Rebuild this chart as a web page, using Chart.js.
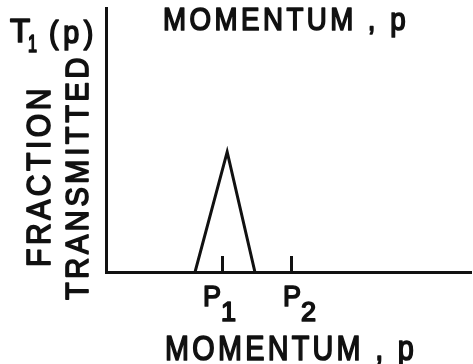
<!DOCTYPE html>
<html>
<head>
<meta charset="utf-8">
<script src="https://cdn.jsdelivr.net/npm/chart.js@4.4.1/dist/chart.umd.min.js"></script>
<style>
  html, body { margin: 0; padding: 0; background: #ffffff; }
  #wrap { width: 473px; height: 364px; position: relative; }
</style>
</head>
<body>
<div id="wrap"><canvas id="c"></canvas></div>
<script>
// ---- data ----
const curveX = [24.4, 33.2, 40.8];       // momentum
const curveY = [0, 0.455, 0];            // fraction transmitted
const tickValues = [31.8, 50.7];         // P1, P2 on the momentum axis
const tickMain = ['P', 'P'];
const tickSub = ['1', '2'];
const titleText = 'MOMENTUM , p';
const xTitleText = 'MOMENTUM , p';
const yTitleLines = ['FRACTION', 'TRANSMITTED'];
const yLabelMain = 'T';
const yLabelSub = '1';
const yLabelRest = '(p)';

// ---- styling constants ----
const INK = '#111111';
const FONT = '"Liberation Sans", Arial, sans-serif';
const labelOffsets = [[-19, -1], [-8, 10]]; // [P offset, subscript offset] from tick pixel

function drawTxt(ctx, s, x, y, size, maxW, spacing, rotate) {
  ctx.save();
  ctx.translate(x, y);
  if (rotate) ctx.rotate(-Math.PI / 2);
  ctx.font = size + 'px ' + FONT;
  ctx.letterSpacing = spacing + 'px';
  ctx.textAlign = 'left';
  ctx.textBaseline = 'alphabetic';
  ctx.fillStyle = INK;
  ctx.strokeStyle = INK;
  ctx.lineWidth = 1.7;
  ctx.lineJoin = 'round';
  if (maxW) { ctx.fillText(s, 0, 0, maxW); ctx.strokeText(s, 0, 0, maxW); }
  else { ctx.fillText(s, 0, 0); ctx.strokeText(s, 0, 0); }
  ctx.restore();
}

const textPlugin = {
  id: 'textPlugin',
  afterDraw(chart) {
    const ctx = chart.ctx;
    const xs = chart.scales.x;
    const ys = chart.scales.y;
    // inward tick marks
    ctx.save();
    ctx.strokeStyle = INK;
    ctx.lineWidth = 3;
    tickValues.forEach(v => {
      const px = Math.round(xs.getPixelForValue(v)) + 0.5;
      const py = ys.getPixelForValue(0);
      ctx.beginPath();
      ctx.moveTo(px, py);
      ctx.lineTo(px, py - 16);
      ctx.stroke();
    });
    ctx.restore();
    // tick labels with subscripts
    tickValues.forEach((v, i) => {
      const px = xs.getPixelForValue(v);
      drawTxt(ctx, tickMain[i], px + labelOffsets[i][0], 306, 30, 18, 0);
      drawTxt(ctx, tickSub[i], px + labelOffsets[i][1], 321, 27, 16, 0);
    });
    // top title
    drawTxt(ctx, titleText, 163, 30, 32, 246, 4);
    // bottom axis title
    drawTxt(ctx, xTitleText, 165, 360, 35, 252, 4);
    // y label T1(p)
    drawTxt(ctx, yLabelMain, 10, 42, 33, 21, 0);
    drawTxt(ctx, yLabelSub, 28, 52, 23, 9, 0);
    drawTxt(ctx, yLabelRest, 49, 43, 31, 49, 5);
    // rotated axis titles
    drawTxt(ctx, yTitleLines[0], 50, 267, 34, 182, 4, true);
    drawTxt(ctx, yTitleLines[1], 88, 300, 32, 246, 4, true);
  }
};

new Chart(document.getElementById('c'), {
  type: 'line',
  data: {
    datasets: [{
      data: curveX.map((x, i) => ({ x: x, y: curveY[i] })),
      borderColor: INK,
      borderWidth: 3,
      pointRadius: 0,
      tension: 0,
      fill: false,
      borderJoinStyle: 'miter'
    }]
  },
  options: {
    responsive: true,
    maintainAspectRatio: false,
    animation: false,
    events: [],
    layout: { padding: { left: 106, top: 8, right: 2, bottom: 92 } },
    plugins: { legend: { display: false }, tooltip: { enabled: false }, title: { display: false } },
    scales: {
      x: {
        type: 'linear', min: 0, max: 100,
        ticks: { display: false },
        grid: { display: false, drawTicks: false },
        border: { display: true, width: 3, color: INK }
      },
      y: {
        type: 'linear', min: 0, max: 1,
        ticks: { display: false },
        grid: { display: false, drawTicks: false },
        border: { display: true, width: 3, color: INK }
      }
    }
  },
  plugins: [textPlugin]
});
</script>
</body>
</html>
